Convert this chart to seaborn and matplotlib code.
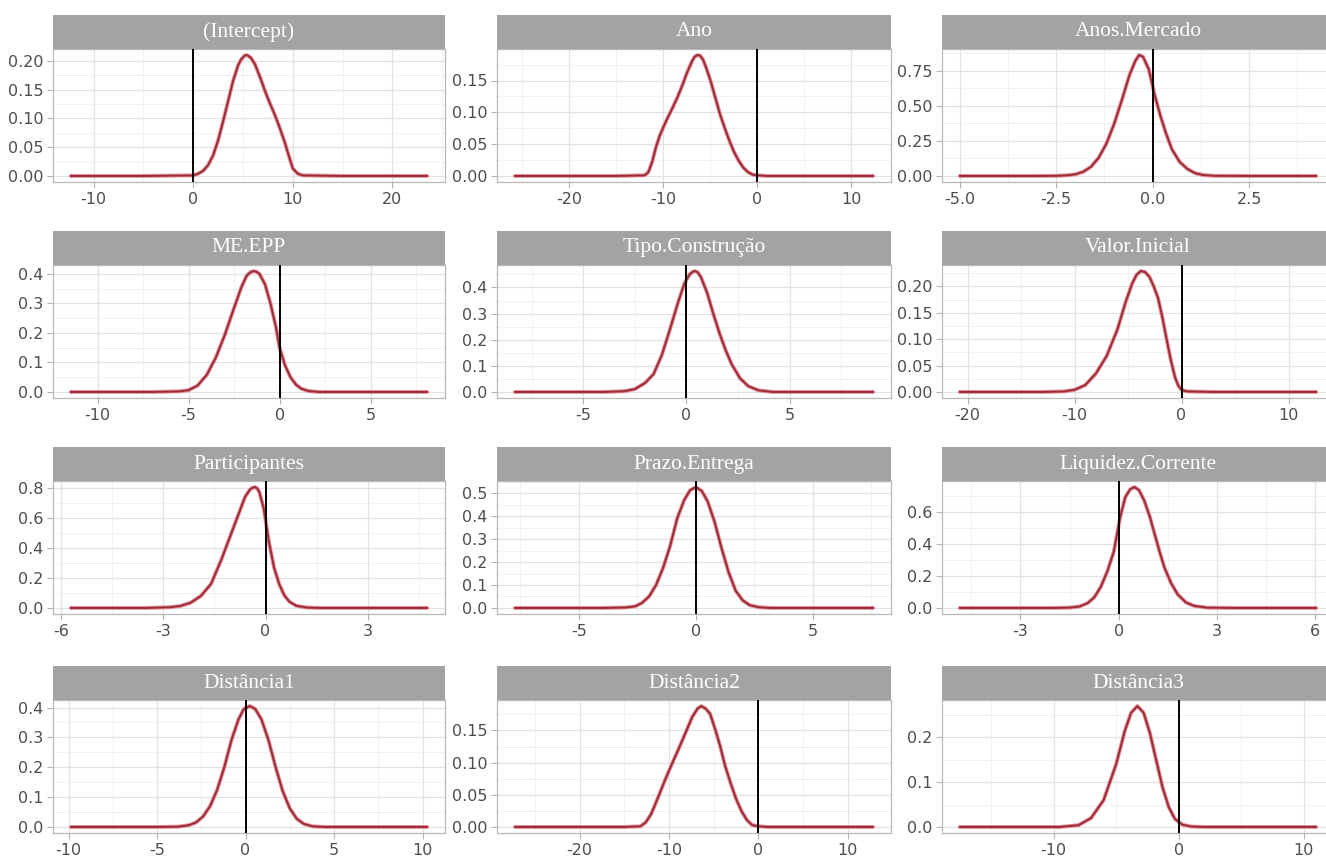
import matplotlib
matplotlib.use("Agg")
import matplotlib.pyplot as plt
from matplotlib.patches import Rectangle
import seaborn as sns
import pandas as pd

sns.set_theme(style="white")
plt.rcParams["font.family"] = ["DejaVu Sans"]

# panel names (facet strips)
names = ["(Intercept)", "Ano", "Anos.Mercado",
         "ME.EPP", "Tipo.Construção", "Valor.Inicial",
         "Participantes", "Prazo.Entrega", "Liquidez.Corrente",
         "Distância1", "Distância2", "Distância3"]

# posterior density curves
intercept_x = [-12.3, -5, 0, 0.5, 1, 1.5, 2, 2.5, 3, 3.5, 4, 4.5, 4.8, 5.1, 5.3, 5.5, 5.8, 6.2, 6.7, 7.2,
               7.7, 8.2, 8.7, 9.2, 9.6, 10, 10.5, 11, 15, 23.5]
intercept_y = [0, 0, 0.001, 0.004, 0.009, 0.019, 0.036, 0.062, 0.095, 0.13, 0.165, 0.192, 0.202, 0.208,
               0.21, 0.209, 0.205, 0.194, 0.172, 0.148, 0.126, 0.106, 0.083, 0.058, 0.035, 0.013, 0.004,
               0.001, 0, 0]

ano_x = [-25.8, -15, -12, -11.6, -11.2, -10.8, -10.4, -10, -9.5, -9, -8.5, -8, -7.5, -7, -6.7, -6.4, -6.1,
         -5.8, -5.5, -5, -4.5, -4, -3.5, -3, -2.5, -2, -1.5, -1, -0.5, 0, 1, 12.3]
ano_y = [0, 0, 0.001, 0.006, 0.022, 0.045, 0.063, 0.077, 0.093, 0.108, 0.124, 0.142, 0.162, 0.179, 0.187,
         0.19, 0.189, 0.183, 0.172, 0.15, 0.124, 0.098, 0.076, 0.056, 0.038, 0.024, 0.013, 0.006, 0.002,
         0.001, 0, 0]

mercado_x = [-5.0, -3, -2.5, -2.2, -2.0, -1.8, -1.6, -1.4, -1.2, -1.0, -0.8, -0.6, -0.45, -0.35, -0.25,
             -0.1, 0.05, 0.2, 0.35, 0.5, 0.7, 0.9, 1.1, 1.3, 1.6, 2.5, 4.24]
mercado_y = [0, 0, 0.001, 0.005, 0.012, 0.03, 0.065, 0.13, 0.23, 0.37, 0.54, 0.72, 0.82, 0.862, 0.85,
             0.76, 0.58, 0.43, 0.30, 0.19, 0.10, 0.05, 0.02, 0.007, 0.001, 0, 0]

meepp_x = [-11.47, -7, -5.5, -5, -4.5, -4, -3.5, -3, -2.5, -2.1, -1.8, -1.6, -1.43, -1.25, -1.1, -0.8,
           -0.5, -0.2, 0, 0.3, 0.6, 0.9, 1.2, 1.6, 2.2, 8.11]
meepp_y = [0, 0, 0.002, 0.006, 0.022, 0.058, 0.117, 0.195, 0.285, 0.355, 0.395, 0.406, 0.41, 0.407, 0.4,
           0.365, 0.3, 0.22, 0.15, 0.09, 0.05, 0.025, 0.011, 0.003, 0, 0]

tipo_x = [-8.32, -4, -3, -2.5, -2.0, -1.6, -1.2, -0.8, -0.4, -0.1, 0.15, 0.3, 0.41, 0.55, 0.7, 1.0, 1.3,
          1.6, 1.9, 2.2, 2.6, 3.0, 3.5, 4.2, 9.05]
tipo_y = [0, 0, 0.003, 0.011, 0.035, 0.068, 0.14, 0.24, 0.345, 0.415, 0.45, 0.46, 0.463, 0.458, 0.44,
          0.38, 0.3, 0.225, 0.16, 0.105, 0.052, 0.022, 0.006, 0, 0]

valor_x = [-20.72, -13, -11, -10, -9, -8, -7, -6, -5.2, -4.6, -4.2, -3.8, -3.4, -3.0, -2.6, -2.2, -1.8,
           -1.4, -1.0, -0.6, -0.3, 0, 0.5, 3, 12.58]
valor_y = [0, 0, 0.001, 0.004, 0.013, 0.035, 0.068, 0.118, 0.172, 0.206, 0.222, 0.229, 0.227, 0.218,
           0.2, 0.178, 0.142, 0.1, 0.06, 0.027, 0.012, 0.004, 0.001, 0, 0]

partic_x = [-5.72, -3.5, -2.8, -2.5, -2.2, -1.9, -1.6, -1.3, -1.0, -0.8, -0.6, -0.45, -0.38, -0.31,
            -0.24, -0.18, -0.05, 0.1, 0.25, 0.4, 0.55, 0.7, 0.9, 1.2, 1.6, 4.75]
partic_y = [0, 0, 0.005, 0.013, 0.035, 0.08, 0.16, 0.32, 0.5, 0.62, 0.74, 0.79, 0.8, 0.805, 0.795, 0.77,
            0.66, 0.44, 0.27, 0.16, 0.085, 0.042, 0.015, 0.003, 0, 0]

prazo_x = [-7.73, -4, -3, -2.6, -2.3, -2.0, -1.7, -1.4, -1.1, -0.8, -0.5, -0.25, 0, 0.25, 0.5, 0.8, 1.1,
           1.4, 1.7, 2.0, 2.3, 2.7, 3.2, 7.57]
prazo_y = [0, 0, 0.002, 0.007, 0.022, 0.05, 0.1, 0.175, 0.27, 0.39, 0.47, 0.513, 0.527, 0.51, 0.465,
           0.375, 0.26, 0.155, 0.075, 0.033, 0.012, 0.003, 0, 0]

liquidez_x = [-4.85, -2, -1.5, -1.2, -0.95, -0.75, -0.55, -0.35, -0.15, 0.05, 0.2, 0.35, 0.48, 0.62,
              0.78, 0.95, 1.1, 1.25, 1.4, 1.6, 1.8, 2.05, 2.3, 2.7, 3.5, 6.03]
liquidez_y = [0, 0, 0.002, 0.009, 0.03, 0.065, 0.13, 0.226, 0.35, 0.57, 0.69, 0.74, 0.754, 0.735, 0.67,
              0.57, 0.46, 0.35, 0.25, 0.155, 0.085, 0.035, 0.013, 0.002, 0, 0]

dist1_x = [-9.87, -5, -3.8, -3.2, -2.8, -2.4, -2.0, -1.6, -1.2, -0.8, -0.4, -0.1, 0.24, 0.55, 0.9, 1.3,
           1.7, 2.1, 2.5, 2.9, 3.3, 3.8, 4.5, 10.26]
dist1_y = [0, 0, 0.001, 0.006, 0.015, 0.035, 0.07, 0.125, 0.2, 0.29, 0.36, 0.395, 0.405, 0.395, 0.36,
           0.29, 0.2, 0.12, 0.062, 0.027, 0.01, 0.002, 0, 0]

dist2_x = [-27.23, -15, -13.2, -12.6, -12.0, -11.3, -10.5, -9.7, -8.9, -8.1, -7.4, -6.8, -6.4, -5.9,
           -5.4, -4.9, -4.3, -3.7, -3.1, -2.5, -1.9, -1.3, -0.7, 0, 1, 12.83]
dist2_y = [0, 0, 0.001, 0.007, 0.02, 0.043, 0.071, 0.097, 0.122, 0.148, 0.171, 0.184, 0.188, 0.184,
           0.176, 0.155, 0.127, 0.094, 0.068, 0.044, 0.025, 0.011, 0.003, 0.001, 0, 0]

dist3_x = [-17.5, -9.5, -8, -7, -6, -5, -4.3, -3.8, -3.3, -2.8, -2.3, -1.8, -1.3, -0.8, -0.3, 0.3, 1,
           2, 11]
dist3_y = [0, 0, 0.004, 0.02, 0.06, 0.14, 0.215, 0.255, 0.27, 0.255, 0.21, 0.15, 0.09, 0.045, 0.018,
           0.005, 0.001, 0, 0]

curves_x = [intercept_x, ano_x, mercado_x, meepp_x, tipo_x, valor_x,
            partic_x, prazo_x, liquidez_x, dist1_x, dist2_x, dist3_x]
curves_y = [intercept_y, ano_y, mercado_y, meepp_y, tipo_y, valor_y,
            partic_y, prazo_y, liquidez_y, dist1_y, dist2_y, dist3_y]

# axis breaks per panel
x_breaks = [[-10, 0, 10, 20], [-20, -10, 0, 10], [-5.0, -2.5, 0.0, 2.5],
            [-10, -5, 0, 5], [-5, 0, 5], [-20, -10, 0, 10],
            [-6, -3, 0, 3], [-5, 0, 5], [-3, 0, 3, 6],
            [-10, -5, 0, 5, 10], [-20, -10, 0, 10], [-10, 0, 10]]
y_breaks = [[0.0, 0.05, 0.10, 0.15, 0.20], [0.0, 0.05, 0.10, 0.15], [0.0, 0.25, 0.50, 0.75],
            [0.0, 0.1, 0.2, 0.3, 0.4], [0.0, 0.1, 0.2, 0.3, 0.4], [0.0, 0.05, 0.10, 0.15, 0.20],
            [0.0, 0.2, 0.4, 0.6, 0.8], [0.0, 0.1, 0.2, 0.3, 0.4, 0.5], [0.0, 0.2, 0.4, 0.6],
            [0.0, 0.1, 0.2, 0.3, 0.4], [0.0, 0.05, 0.10, 0.15], [0.0, 0.1, 0.2]]


def fmt(vals):
    dec = max(len(f"{v:g}".split(".")[1]) if "." in f"{v:g}" else 0 for v in vals)
    if any(isinstance(v, float) for v in vals) and dec == 0:
        dec = 1
    return [f"{v:.{dec}f}" for v in vals]


def minors(breaks, lo, hi):
    step = breaks[1] - breaks[0]
    out = []
    m = breaks[0] - step / 2
    while m < hi:
        if m > lo:
            out.append(m)
        m += step
    return out


W, H = 1326, 861
fig = plt.figure(figsize=(W / 100, H / 100), dpi=100)
fig.patch.set_facecolor("white")

col_left = [53, 497, 942]
col_width = [392, 394, 392]
row_top = [49, 265, 481, 700]
panel_h = 133
strip_h = 34

for i, name in enumerate(names):
    r, c = divmod(i, 3)
    ax = fig.add_axes([col_left[c] / W, 1 - (row_top[r] + panel_h) / H,
                       col_width[c] / W, panel_h / H])
    df = pd.DataFrame({"x": curves_x[i], "y": curves_y[i]})
    sns.lineplot(data=df, x="x", y="y", ax=ax, color="#E58C96", linewidth=2.8, zorder=3)
    sns.lineplot(data=df, x="x", y="y", ax=ax, color="#9A2D37", linewidth=1.4, zorder=4)
    ax.axvline(0, color="black", linewidth=1.4, zorder=5)

    x_lo, x_hi = min(df.x.min(), 0), max(df.x.max(), 0)
    xr = x_hi - x_lo
    ax.set_xlim(x_lo - 0.05 * xr, x_hi + 0.05 * xr)
    ymax = df.y.max()
    ax.set_ylim(-0.05 * ymax, 1.05 * ymax)

    ax.set_xticks(x_breaks[i])
    ax.set_xticklabels(fmt(x_breaks[i]))
    ax.set_yticks(y_breaks[i])
    ax.set_yticklabels(fmt(y_breaks[i]))
    ax.set_xticks(minors(x_breaks[i], *ax.get_xlim()), minor=True)
    ax.set_yticks(minors(y_breaks[i], *ax.get_ylim()), minor=True)

    ax.grid(which="major", color="#E2E2E2", linewidth=0.9)
    ax.grid(which="minor", color="#EFEFEF", linewidth=0.6)
    ax.set_axisbelow(True)
    ax.tick_params(which="major", length=4, width=0.8, color="#B3B3B3",
                   labelsize=11.5, labelcolor="#4D4D4D", pad=3, bottom=True, left=True)
    ax.tick_params(which="minor", length=0)
    for s in ax.spines.values():
        s.set_color("#B8B8B8")
        s.set_linewidth(0.9)
    ax.set_xlabel("")
    ax.set_ylabel("")
    if ax.get_legend():
        ax.get_legend().remove()

    # facet strip
    sh = strip_h / panel_h
    ax.add_patch(Rectangle((0, 1), 1, sh, transform=ax.transAxes, facecolor="#A3A3A3",
                           edgecolor="none", clip_on=False, zorder=6))
    ax.text(0.5, 1 + sh / 2, name, transform=ax.transAxes, ha="center", va="center",
            color="white", fontsize=15.5, family=["Liberation Serif", "DejaVu Serif"], zorder=7)

fig.savefig("out.png", dpi=100, facecolor="white")
